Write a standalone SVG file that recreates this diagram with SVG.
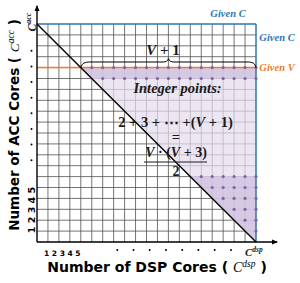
<svg xmlns="http://www.w3.org/2000/svg" width="300" height="283" viewBox="0 0 300 283">
<style>
.grid{stroke:#505050;stroke-width:0.8;fill:none}
.ax{stroke:#000;stroke-width:1.4;fill:none}
.blue{stroke:#2e75b6;stroke-width:1.5;fill:none}
.orange{stroke:#ed7d31;stroke-width:1.5;fill:none}
.lt{fill:#e4dcee;fill-opacity:0.72}
.dk{fill:#cdbfdf;fill-opacity:0.75}
.pt{fill:#8064a2}
.lab{font-family:"DejaVu Sans",Verdana,sans-serif;font-weight:bold;fill:#000}
.math{font-family:"Liberation Serif","DejaVu Serif",serif;font-weight:bold;fill:#1a1a1a}
.giv{font-family:"Liberation Serif","DejaVu Serif",serif;font-weight:bold;font-style:italic;font-size:10.5px}
.dot{fill:#000}
</style>
<defs>
<marker id="arr" markerWidth="6" markerHeight="6" refX="5" refY="3" orient="auto" markerUnits="userSpaceOnUse">
<path d="M0,0.5 L6,3 L0,5.5 Z" fill="#000"/>
</marker>
</defs>
<g id="grid">
<path class="grid" d="M47.95 24V242M58.9 24V242M69.85 24V242M80.8 24V242M91.75 24V242M102.7 24V242M113.65 24V242M124.6 24V242M135.55 24V242M146.5 24V242M157.45 24V242M168.4 24V242M179.35 24V242M190.3 24V242M201.25 24V242M212.2 24V242M223.15 24V242M234.1 24V242M245.05 24V242
M37 231.1H256M37 220.2H256M37 209.3H256M37 198.4H256M37 187.5H256M37 176.6H256M37 165.7H256M37 154.8H256M37 143.9H256M37 133H256M37 122.1H256M37 111.2H256M37 100.3H256M37 89.4H256M37 78.5H256M37 67.6H256M37 56.7H256M37 45.8H256M37 34.9H256"/>
</g>
<g id="region">
<polygon class="lt" points="80.8,67.6 256,67.6 256,242"/>
<polygon class="dk" points="80.8,67.6 256,67.6 256,78.5 91.75,78.5"/>
<polygon class="dk" points="190.3,176.6 256,176.6 256,242"/>
</g>
<g id="lines">
<line class="orange" x1="37" y1="67.6" x2="256" y2="67.6"/>
<line class="blue" x1="37" y1="24" x2="256" y2="24"/>
<line class="blue" x1="256" y1="24" x2="256" y2="242"/>
<line x1="37" y1="24" x2="256" y2="242" stroke="#000" stroke-width="1.4"/>
</g>
<g id="axes">
<line class="ax" x1="37" y1="242" x2="37" y2="6" marker-end="url(#arr)"/>
<line class="ax" x1="37" y1="242" x2="277" y2="242" marker-end="url(#arr)"/>
</g>
<g id="points">
<g class="pt">
<circle cx="91.75" cy="67.6" r="1.6"/><circle cx="102.7" cy="67.6" r="1.6"/><circle cx="113.65" cy="67.6" r="1.6"/><circle cx="124.6" cy="67.6" r="1.6"/><circle cx="135.55" cy="67.6" r="1.6"/><circle cx="146.5" cy="67.6" r="1.6"/><circle cx="157.45" cy="67.6" r="1.6"/><circle cx="168.4" cy="67.6" r="1.6"/><circle cx="179.35" cy="67.6" r="1.6"/><circle cx="190.3" cy="67.6" r="1.6"/><circle cx="201.25" cy="67.6" r="1.6"/><circle cx="212.2" cy="67.6" r="1.6"/><circle cx="223.15" cy="67.6" r="1.6"/><circle cx="234.1" cy="67.6" r="1.6"/><circle cx="245.05" cy="67.6" r="1.6"/><circle cx="256" cy="67.6" r="1.6"/>
<circle cx="102.7" cy="78.5" r="1.6"/><circle cx="113.65" cy="78.5" r="1.6"/><circle cx="124.6" cy="78.5" r="1.6"/><circle cx="135.55" cy="78.5" r="1.6"/><circle cx="146.5" cy="78.5" r="1.6"/><circle cx="157.45" cy="78.5" r="1.6"/><circle cx="168.4" cy="78.5" r="1.6"/><circle cx="179.35" cy="78.5" r="1.6"/><circle cx="190.3" cy="78.5" r="1.6"/><circle cx="201.25" cy="78.5" r="1.6"/><circle cx="212.2" cy="78.5" r="1.6"/><circle cx="223.15" cy="78.5" r="1.6"/><circle cx="234.1" cy="78.5" r="1.6"/><circle cx="245.05" cy="78.5" r="1.6"/><circle cx="256" cy="78.5" r="1.6"/>
<circle cx="201.25" cy="176.6" r="1.6"/><circle cx="212.2" cy="176.6" r="1.6"/><circle cx="223.15" cy="176.6" r="1.6"/><circle cx="234.1" cy="176.6" r="1.6"/><circle cx="245.05" cy="176.6" r="1.6"/><circle cx="256" cy="176.6" r="1.6"/>
<circle cx="212.2" cy="187.5" r="1.6"/><circle cx="223.15" cy="187.5" r="1.6"/><circle cx="234.1" cy="187.5" r="1.6"/><circle cx="245.05" cy="187.5" r="1.6"/><circle cx="256" cy="187.5" r="1.6"/>
<circle cx="223.15" cy="198.4" r="1.6"/><circle cx="234.1" cy="198.4" r="1.6"/><circle cx="245.05" cy="198.4" r="1.6"/><circle cx="256" cy="198.4" r="1.6"/>
<circle cx="234.1" cy="209.3" r="1.6"/><circle cx="245.05" cy="209.3" r="1.6"/><circle cx="256" cy="209.3" r="1.6"/>
<circle cx="245.05" cy="220.2" r="1.6"/><circle cx="256" cy="220.2" r="1.6"/>
<circle cx="256" cy="231.1" r="1.6"/>
</g>
</g>
<g id="brace">
<path d="M80.8,67.6 C82,63 85,62 90,62 L163,62 C166,62 168,61 168.4,58.5 C169,61 171,62 174,62 L248,62 C252,62 255,63 256,67.6" fill="none" stroke="#000" stroke-width="1"/>
<text class="math" x="163" y="55" font-size="15" text-anchor="middle"><tspan font-style="italic">V</tspan> + 1</text>
</g>
<g id="labels">
<text class="giv" x="228" y="17" fill="#2e75b6" text-anchor="middle">Given C</text>
<text class="giv" x="277" y="41" fill="#2e75b6" text-anchor="middle">Given C</text>
<text class="giv" x="277" y="71" fill="#ed7d31" text-anchor="middle">Given V</text>
<text class="math" x="177.5" y="93" font-size="14.5" font-style="italic" text-anchor="middle">Integer points:</text>
<text class="math" x="175.5" y="127" font-size="14.5" text-anchor="middle">2 + 3 + ⋯ +(<tspan font-style="italic">V</tspan> + 1)</text>
<text class="math" x="176" y="142" font-size="14.5" text-anchor="middle">=</text>
<text class="math" x="176" y="157" font-size="14" text-anchor="middle"><tspan font-style="italic">V</tspan> · (<tspan font-style="italic">V</tspan> + 3)</text>
<line x1="144" y1="162" x2="207" y2="162" stroke="#1a1a1a" stroke-width="1"/>
<text class="math" x="176" y="176" font-size="14" text-anchor="middle">2</text>
</g>
<g id="axis-ticks">
<text class="lab" x="44" y="256" font-size="7.5">1 2 3 4 5</text>
<g class="dot">
<circle cx="117.3" cy="250" r="1"/><circle cx="133.5" cy="250" r="1"/><circle cx="149.7" cy="250" r="1"/><circle cx="166" cy="250" r="1"/><circle cx="182.2" cy="250" r="1"/><circle cx="198.4" cy="250" r="1"/><circle cx="214.7" cy="250" r="1"/><circle cx="231" cy="250" r="1"/>
<circle cx="31.5" cy="50.7" r="1"/><circle cx="31.5" cy="66.4" r="1"/><circle cx="31.5" cy="82" r="1"/><circle cx="31.5" cy="97.7" r="1"/><circle cx="31.5" cy="113.3" r="1"/><circle cx="31.5" cy="129" r="1"/><circle cx="31.5" cy="144.6" r="1"/><circle cx="31.5" cy="160.3" r="1"/>
</g>
<text class="math" x="245" y="256" font-size="11" font-weight="normal" font-style="italic">C<tspan font-size="7.5" dy="-4">dsp</tspan></text>
<text class="lab" transform="translate(34.5,210) rotate(-90)" font-size="9.5" text-anchor="middle">1 2 3 4 5</text>
<text class="math" transform="translate(35.5,22) rotate(-90)" font-size="11.5" font-weight="normal" font-style="italic" text-anchor="middle">C<tspan font-size="8" dy="-4.5">acc</tspan></text>
</g>
<g id="axis-titles">
<text class="lab" x="157" y="272" font-size="14" text-anchor="middle">Number of DSP Cores ( <tspan font-family="Liberation Serif,serif" font-style="italic" font-weight="normal" font-size="14">C</tspan><tspan font-family="Liberation Serif,serif" font-style="italic" font-weight="normal" font-size="9.5" dy="-5.5">dsp</tspan><tspan dy="5.5"> )</tspan></text>
<text class="lab" transform="translate(19,125) rotate(-90)" font-size="13.5" text-anchor="middle">Number of ACC Cores ( <tspan font-family="Liberation Serif,serif" font-style="italic" font-weight="normal" font-size="13.5">C</tspan><tspan font-family="Liberation Serif,serif" font-style="italic" font-weight="normal" font-size="9.5" dy="-5.5">acc</tspan><tspan dy="5.5"> )</tspan></text>
</g>
</svg>
